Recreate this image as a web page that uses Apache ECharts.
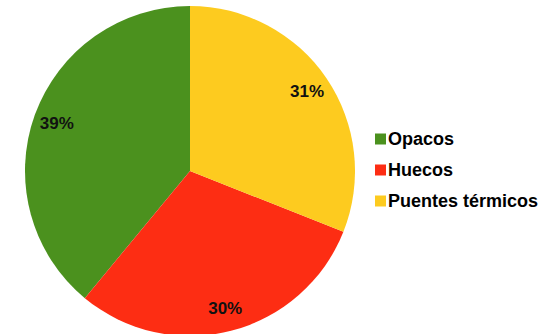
<!DOCTYPE html>
<html>
<head>
<meta charset="utf-8">
<script src="https://cdn.jsdelivr.net/npm/echarts@6/dist/echarts.min.js"></script>
<style>
  html, body { margin: 0; padding: 0; background: #fff; }
  #main { width: 552px; height: 334px; }
</style>
</head>
<body>
<div id="main"></div>
<script>
// datos del gráfico
var categorias = ['Opacos', 'Huecos', 'Puentes térmicos'];
var valores = [39, 30, 31];
var colores = ['#4b911e', '#fd2d13', '#fdcb1f'];

var myChart = echarts.init(document.getElementById('main'), null, { renderer: 'svg' });

var datos = categorias.map(function (c, i) {
    return { name: c, value: valores[i], itemStyle: { color: colores[i] } };
});

var option = {
    animation: false,
    legend: {
        orient: 'vertical',
        left: 370,
        top: 125,
        itemWidth: 11,
        itemHeight: 11,
        itemGap: 13,
        icon: 'rect',
        data: categorias,
        textStyle: {
            fontFamily: 'Liberation Sans',
            fontWeight: 'bold',
            fontSize: 18,
            color: '#000',
            padding: [0, 0, 0, -3]
        }
    },
    series: [
        {
            name: 'sectores',
            type: 'pie',
            center: [190, 171],
            radius: [0, 165],
            startAngle: 90,
            clockwise: false,
            label: { show: false },
            labelLine: { show: false },
            emphasis: { disabled: true },
            data: datos
        },
        {
            // serie transparente solo para colocar las etiquetas cerca del borde
            name: 'etiquetas',
            type: 'pie',
            center: [190, 171],
            radius: [112, 165],
            startAngle: 90,
            clockwise: false,
            silent: true,
            itemStyle: { color: 'transparent' },
            label: {
                show: true,
                position: 'inside',
                formatter: '{c}%',
                fontFamily: 'Liberation Sans',
                fontWeight: 'bold',
                fontSize: 17,
                color: '#111'
            },
            labelLine: { show: false },
            data: categorias.map(function (c, i) { return { name: c, value: valores[i] }; })
        }
    ]
};
myChart.setOption(option);
</script>
</body>
</html>
